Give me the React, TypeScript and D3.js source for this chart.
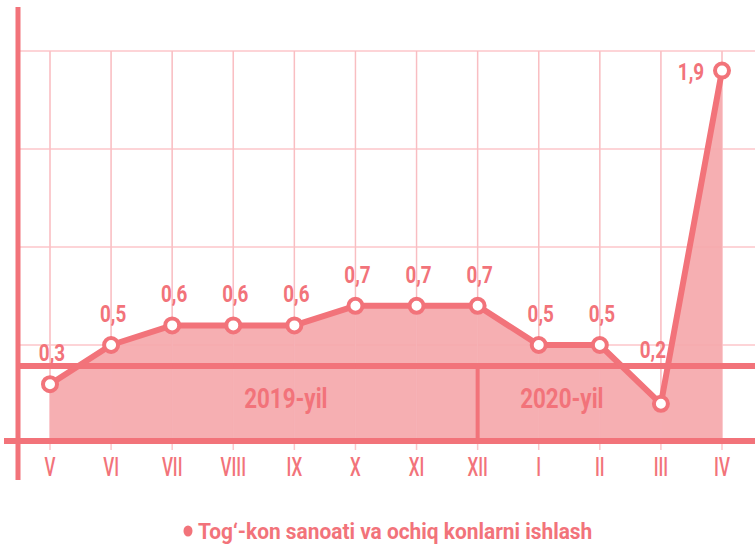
import React, { useEffect, useRef } from "react";
import * as d3 from "d3";

const months = ["V", "VI", "VII", "VIII", "IX", "X", "XI", "XII", "I", "II", "III", "IV"];
const values = [0.3, 0.5, 0.6, 0.6, 0.6, 0.7, 0.7, 0.7, 0.5, 0.5, 0.2, 1.9];
const gridTicks = [0.5, 1, 1.5, 2];
const years = [
  { label: "2019-yil", from: "V", to: "XII" },
  { label: "2020-yil", from: "XII", to: "IV" },
];
const legendLabel = "Tog‘-kon sanoati va ochiq konlarni ishlash";

const RED = "#f2737a";
const FILL = "#f5a8ab";
const GRID = "#fcc6ca";
const FONT = "Roboto, sans-serif";

const App = () => {
  const svgRef = useRef<SVGSVGElement>(null);

  useEffect(() => {
    const svg = d3.select(svgRef.current);
    svg.selectAll("*").remove();

    const width = 755;
    const height = 548;
    svg.attr("width", width).attr("height", height);

    const x = d3.scalePoint().domain(months).range([50, 722]);
    const y = d3.scaleLinear().domain([0, 2]).range([443, 51]);
    const base = 441;
    const bandTop = 366;
    const data = months.map((m, i) => ({ m, v: values[i] }));

    // condensed-looking text: squeeze horizontally
    const squeeze = (tx: number, ty: number, k: number) => `translate(${tx},${ty}) scale(${k},1)`;

    // grid
    svg.append("g")
      .selectAll("line")
      .data(gridTicks)
      .enter().append("line")
      .attr("x1", 20).attr("x2", width)
      .attr("y1", d => y(d)).attr("y2", d => y(d))
      .attr("stroke", GRID).attr("stroke-width", 1.5);

    svg.append("g")
      .selectAll("line")
      .data(months)
      .enter().append("line")
      .attr("x1", d => x(d)!).attr("x2", d => x(d)!)
      .attr("y1", y(2)).attr("y2", base + 9)
      .attr("stroke", GRID).attr("stroke-width", 1.5);

    // area
    const area = d3.area<{ m: string; v: number }>()
      .x(d => x(d.m)!)
      .y0(base)
      .y1(d => y(d.v));
    svg.append("path")
      .datum(data)
      .attr("d", area)
      .attr("fill", FILL)
      .attr("opacity", 0.92);

    // vertical grid faintly over fill
    svg.append("g")
      .selectAll("line")
      .data(months)
      .enter().append("line")
      .attr("x1", d => x(d)!).attr("x2", d => x(d)!)
      .attr("y1", y(2)).attr("y2", base)
      .attr("stroke", "#f7b8bc").attr("stroke-width", 1)
      .attr("opacity", 0.6);

    // year band lines
    svg.append("line")
      .attr("x1", 18).attr("x2", width)
      .attr("y1", bandTop).attr("y2", bandTop)
      .attr("stroke", RED).attr("stroke-width", 6);
    svg.append("line")
      .attr("x1", x("XII")!).attr("x2", x("XII")!)
      .attr("y1", bandTop).attr("y2", base)
      .attr("stroke", RED).attr("stroke-width", 4);

    svg.append("g")
      .selectAll("text")
      .data(years)
      .enter().append("text")
      .attr("transform", (d, i) => squeeze((x(d.from)! + x(d.to)!) / 2 + (i === 0 ? 22 : -38), 408, 0.8))
      .attr("text-anchor", "middle")
      .attr("font-family", FONT)
      .attr("font-weight", "bold")
      .attr("font-size", 28)
      .attr("fill", RED)
      .text(d => d.label);

    // axes
    svg.append("line")
      .attr("x1", 18).attr("x2", 18)
      .attr("y1", 7).attr("y2", 480)
      .attr("stroke", RED).attr("stroke-width", 5);
    svg.append("line")
      .attr("x1", 4).attr("x2", width)
      .attr("y1", base).attr("y2", base)
      .attr("stroke", RED).attr("stroke-width", 6);

    // month labels
    svg.append("g")
      .selectAll("text")
      .data(months)
      .enter().append("text")
      .attr("transform", d => squeeze(x(d)!, 476, 0.68))
      .attr("text-anchor", "middle")
      .attr("font-family", FONT)
      .attr("font-weight", 500)
      .attr("font-size", 25)
      .attr("fill", RED)
      .text(d => d);

    // line
    const line = d3.line<{ m: string; v: number }>()
      .x(d => x(d.m)!)
      .y(d => y(d.v));
    svg.append("path")
      .datum(data)
      .attr("d", line)
      .attr("fill", "none")
      .attr("stroke", RED)
      .attr("stroke-width", 6)
      .attr("stroke-linejoin", "round");

    svg.append("g")
      .selectAll("circle")
      .data(data)
      .enter().append("circle")
      .attr("cx", d => x(d.m)!)
      .attr("cy", d => y(d.v))
      .attr("r", 7)
      .attr("fill", "#fff")
      .attr("stroke", RED)
      .attr("stroke-width", 4);

    // value labels
    const last = data.length - 1;
    svg.append("g")
      .selectAll("text")
      .data(data)
      .enter().append("text")
      .attr("transform", (d, i) => squeeze(
        x(d.m)! + (i === last ? -31 : i === last - 1 ? -8 : 2),
        y(d.v) + (i === last ? 9 : i === last - 1 ? -46 : -23),
        0.82))
      .attr("text-anchor", "middle")
      .attr("font-family", FONT)
      .attr("font-weight", "bold")
      .attr("font-size", 23)
      .attr("fill", RED)
      .text(d => d3.format(".1f")(d.v).replace(".", ","));

    // legend
    const legend = svg.append("g").attr("transform", "translate(188,531)");
    legend.append("ellipse").attr("rx", 4.5).attr("ry", 5.5).attr("fill", RED);
    legend.append("text")
      .attr("transform", squeeze(10, 8, 0.95))
      .attr("font-family", FONT)
      .attr("font-weight", "bold")
      .attr("font-size", 22)
      .attr("fill", RED)
      .text(legendLabel);
  }, []);

  return <svg ref={svgRef} style={{ position: "absolute", left: 0, top: 0 }}></svg>;
};

export default App;
